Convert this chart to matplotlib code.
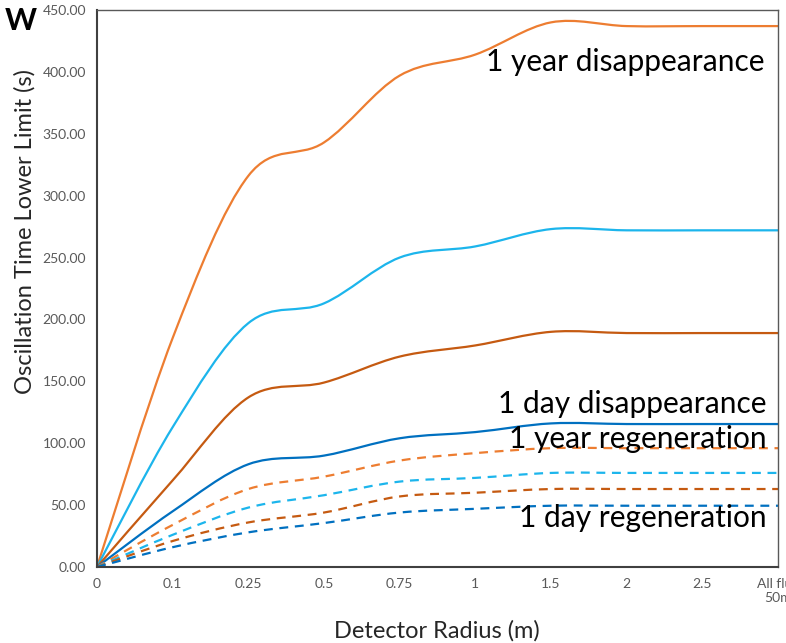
import matplotlib
matplotlib.use("Agg")
import matplotlib.pyplot as plt
from matplotlib.path import Path
from matplotlib.patches import PathPatch
import numpy as np

plt.rcParams['font.family'] = ['Lato', 'DejaVu Sans']

# categories on the x axis (evenly spaced, Excel style)
radius_labels = ['0', '0.1', '0.25', '0.5', '0.75', '1', '1.5', '2', '2.5', 'All flux\n50m']

# solid lines (disappearance)
yr_disapp = [0, 185, 316, 343, 397, 414, 440, 437, 437, 437]
cyan_disapp = [0, 113, 197, 213, 250, 259, 273, 272, 272, 272]
brown_disapp = [0, 70, 137, 149, 170, 179, 190, 189, 189, 189]
day_disapp = [0, 45, 83, 90, 104, 109, 116, 115.5, 115.5, 115.5]

# dashed lines (regeneration)
yr_regen = [0, 34, 63, 73, 86, 92, 96, 96, 96, 96]
cyan_regen = [0, 26, 48, 58, 69, 72, 76, 76, 76, 76]
brown_regen = [0, 21, 36, 44, 57, 60, 63, 63, 63, 63]
day_regen = [0, 16, 28, 35.5, 44, 47, 49.5, 49.5, 49.5, 49.5]

ORANGE = '#ED7D31'
CYAN = '#1CB5EC'
BROWN = '#C55A11'
BLUE = '#0070C0'


def smooth_line(ax, xs, ys, color, ls='-', lw=1.6):
    # Excel-like smoothed line: cubic bezier through the points
    xs = np.asarray(xs, float)
    ys = np.asarray(ys, float)
    n = len(xs)
    verts = [(xs[0], ys[0])]
    codes = [Path.MOVETO]
    t = 1.0 / 6.0
    for i in range(n - 1):
        p0 = (xs[max(i - 1, 0)], ys[max(i - 1, 0)])
        p1 = (xs[i], ys[i])
        p2 = (xs[i + 1], ys[i + 1])
        p3 = (xs[min(i + 2, n - 1)], ys[min(i + 2, n - 1)])
        c1 = (p1[0] + (p2[0] - p0[0]) * t, p1[1] + (p2[1] - p0[1]) * t)
        c2 = (p2[0] - (p3[0] - p1[0]) * t, p2[1] - (p3[1] - p1[1]) * t)
        verts += [c1, c2, p2]
        codes += [Path.CURVE4] * 3
    patch = PathPatch(Path(verts, codes), fill=False, edgecolor=color,
                      linestyle=ls, linewidth=lw, capstyle='butt')
    ax.add_patch(patch)


fig = plt.figure(figsize=(7.86, 6.43), dpi=100)
ax = fig.add_axes([97 / 786, 1 - 567 / 643, (778 - 97) / 786, (567 - 10) / 643])

xpos = np.arange(len(radius_labels))
dash = (0, (4, 3))
smooth_line(ax, xpos, yr_disapp, ORANGE)
smooth_line(ax, xpos, cyan_disapp, CYAN)
smooth_line(ax, xpos, brown_disapp, BROWN)
smooth_line(ax, xpos, day_disapp, BLUE)
smooth_line(ax, xpos, yr_regen, ORANGE, ls=dash)
smooth_line(ax, xpos, cyan_regen, CYAN, ls=dash)
smooth_line(ax, xpos, brown_regen, BROWN, ls=dash)
smooth_line(ax, xpos, day_regen, BLUE, ls=dash)

ax.set_xlim(0, 9)
ax.set_ylim(0, 450)
ax.set_xticks(xpos)
ax.set_xticklabels(radius_labels)
yt = np.arange(0, 451, 50)
ax.set_yticks(yt)
ax.set_yticklabels(['%.2f' % v for v in yt])
ax.tick_params(length=0, labelsize=10, labelcolor='#595959', pad=8)
for s in ax.spines.values():
    s.set_color('#595959')
    s.set_linewidth(1.0)
ax.spines['left'].set_color('#404040')
ax.spines['bottom'].set_color('#404040')
ax.spines['left'].set_linewidth(1.5)
ax.spines['bottom'].set_linewidth(1.5)

# axis titles placed like the Excel chart
fig.text(437 / 786, 1 - 631 / 643, 'Detector Radius (m)', fontsize=17,
         color='#262626', ha='center', va='center')
fig.text(25 / 786, 1 - 231 / 643, 'Oscillation Time Lower Limit (s)', fontsize=17,
         color='#262626', ha='center', va='center', rotation=90)

lbl = dict(fontsize=21.5, ha='right', va='baseline', color='black')
ax.text(764, 643 - 71, '1 year disappearance', transform=None, **lbl)
ax.text(766, 643 - 413, '1 day disappearance', transform=None, **lbl)
ax.text(767, 643 - 448, '1 year regeneration', transform=None, **lbl)
ax.text(767, 643 - 527, '1 day regeneration', transform=None, **lbl)

fig.text(5 / 786, 1 - 30 / 643, 'W', fontsize=22, fontweight='bold', va='baseline')

fig.savefig('out.png', dpi=100)
